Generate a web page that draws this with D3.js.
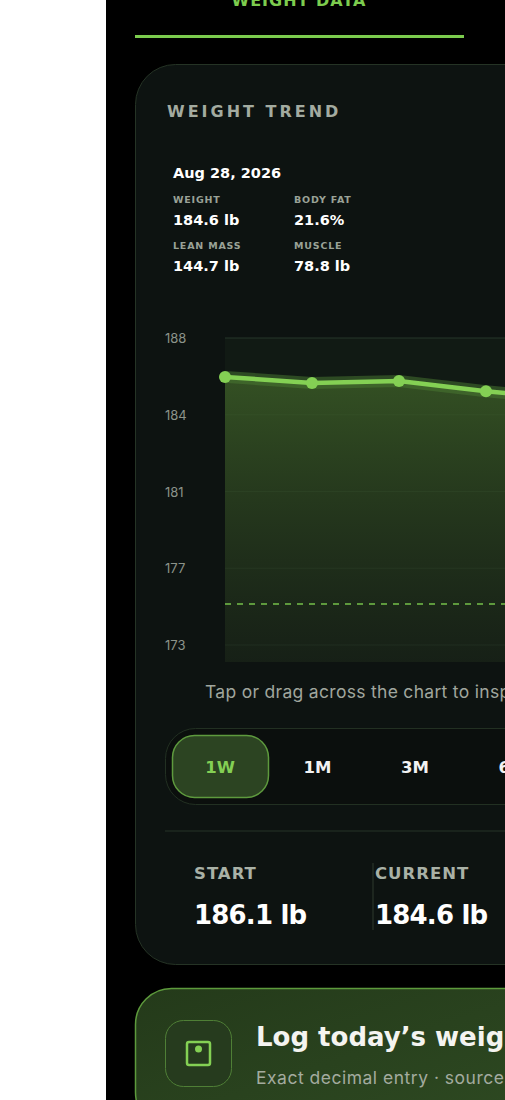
<!DOCTYPE html>
<html><head><meta charset="utf-8">
<script src="https://cdn.jsdelivr.net/npm/d3@7"></script>
<style>
body{margin:0;background:#fff;overflow:hidden}
text{font-family:Inter,"Noto Sans",sans-serif}
text.b{font-family:"DejaVu Sans",sans-serif;font-weight:700}
</style></head>
<body>
<div id="app"></div>
<script>
// data
const days = ["Aug 22","Aug 23","Aug 24","Aug 25","Aug 26","Aug 27","Aug 28"];
const weights = [186.1, 185.8, 185.9, 185.4, 185.0, 184.8, 184.6];
const goalWeight = 175;
const yTicks = [173, 176.75, 180.5, 184.25, 188];
const ranges = ["1W", "1M", "3M", "6M"];
const stats = [["WEIGHT","184.6 lb"],["BODY FAT","21.6%"],["LEAN MASS","144.7 lb"],["MUSCLE","78.8 lb"]];

const svg = d3.select("#app").append("svg")
    .attr("width", 505).attr("height", 1100);

const defs = svg.append("defs");
const grad = defs.append("linearGradient").attr("id","fill").attr("x1",0).attr("x2",0).attr("y1",0).attr("y2",1);
grad.append("stop").attr("offset","0%").attr("stop-color","#3a5a26").attr("stop-opacity",0.85);
grad.append("stop").attr("offset","100%").attr("stop-color","#1a2418").attr("stop-opacity",0.6);
const cg = defs.append("linearGradient").attr("id","cta").attr("x1",0).attr("x2",1).attr("y1",0).attr("y2",1);
cg.append("stop").attr("offset","0%").attr("stop-color","#243a1a");
cg.append("stop").attr("offset","100%").attr("stop-color","#2e4a22");

svg.append("rect").attr("x",106).attr("width",399).attr("height",1100).attr("fill","#000");

// tab header
svg.append("text").attr("class","b").attr("x",299).attr("y",6).attr("text-anchor","middle")
    .attr("fill","#7ccc4e").attr("font-size",16).attr("letter-spacing",1)
    .text("WEIGHT DATA");
svg.append("rect").attr("x",135).attr("y",35).attr("width",329).attr("height",3).attr("fill","#7ccc4e");

// card
svg.append("rect").attr("x",135.5).attr("y",64.5).attr("width",420).attr("height",900).attr("rx",40)
    .attr("fill","#0d1311").attr("stroke","#253325");
svg.append("text").attr("class","b").attr("x",167).attr("y",117).attr("fill","#a3aba0").attr("font-size",16)
    .attr("letter-spacing",3).text("WEIGHT TREND");

svg.append("text").attr("class","b").attr("x",173).attr("y",178).attr("fill","#fff").attr("font-size",14.5)
    .text("Aug 28, 2026");
stats.forEach((s,i) => {
  const x = 173 + (i%2)*121, y = 203 + Math.floor(i/2)*46;
  svg.append("text").attr("class","b").attr("x",x).attr("y",y).attr("fill","#9aa297").attr("font-size",9.5)
      .attr("letter-spacing",0.8).text(s[0]);
  svg.append("text").attr("class","b").attr("x",x).attr("y",y+22).attr("fill","#fff").attr("font-size",14.5)
      .text(s[1]);
});

// chart
const x = d3.scalePoint().domain(days).range([225, 747]);
const y = d3.scaleLinear().domain([173, 188]).range([645, 338]);
const bottom = 662;

svg.append("rect").attr("x",225).attr("y",338).attr("width",300).attr("height",bottom-338).attr("fill","#111a14");
svg.append("g").selectAll("line").data(yTicks).join("line")
    .attr("x1",225).attr("x2",505).attr("y1",d=>y(d)).attr("y2",d=>y(d))
    .attr("stroke","#26362a").attr("stroke-width",1.2);
svg.append("g").selectAll("text").data(yTicks).join("text")
    .attr("x",165).attr("y",d=>y(d)+5).attr("fill","#8c938a").attr("font-size",13)
    .text(d=>Math.round(d));

const area = d3.area().x((d,i)=>x(days[i])).y0(bottom).y1(d=>y(d));
const line = d3.line().x((d,i)=>x(days[i])).y(d=>y(d));
svg.append("path").datum(weights).attr("d",area).attr("fill","url(#fill)");
svg.append("line").attr("x1",225).attr("x2",505).attr("y1",y(goalWeight)).attr("y2",y(goalWeight))
    .attr("stroke","#76c04a").attr("stroke-width",1.5).attr("stroke-dasharray","6,6");
svg.append("path").datum(weights).attr("d",line).attr("fill","none")
    .attr("stroke","#4a7a32").attr("stroke-opacity",0.5).attr("stroke-width",12);
svg.append("path").datum(weights).attr("d",line).attr("fill","none")
    .attr("stroke","#84d054").attr("stroke-width",4.5);
svg.append("g").selectAll("circle").data(weights).join("circle")
    .attr("cx",(d,i)=>x(days[i])).attr("cy",d=>y(d)).attr("r",6).attr("fill","#84d054");

svg.append("text").attr("x",205).attr("y",698).attr("fill","#a0a69e").attr("font-size",17.5)
    .attr("letter-spacing",0.3).text("Tap or drag across the chart to inspect a day");

// range selector
svg.append("rect").attr("x",165.5).attr("y",728.5).attr("width",400).attr("height",76).attr("rx",30)
    .attr("fill","#0b0f0d").attr("stroke","#223022");
svg.append("rect").attr("x",172.5).attr("y",735.5).attr("width",96).attr("height",62).attr("rx",22)
    .attr("fill","#2c4422").attr("stroke","#5e9a3e").attr("stroke-width",1.5);
ranges.forEach((r,i)=>{
  svg.append("text").attr("class","b").attr("x",220+i*97.5).attr("y",773).attr("text-anchor","middle")
      .attr("fill", i===0 ? "#84d054" : "#f2f2f2").attr("font-size",16.5).text(r);
});

svg.append("line").attr("x1",165).attr("x2",505).attr("y1",831).attr("y2",831).attr("stroke","#273428");
svg.append("line").attr("x1",373).attr("x2",373).attr("y1",863).attr("y2",930).attr("stroke","#2e3a2e");
[["START","186.1 lb",194],["CURRENT","184.6 lb",375]].forEach(s=>{
  svg.append("text").attr("class","b").attr("x",s[2]).attr("y",879).attr("fill","#a9b1a6").attr("font-size",16.5)
      .attr("letter-spacing",1).text(s[0]);
  svg.append("text").attr("class","b").attr("x",s[2]).attr("y",924).attr("fill","#fff").attr("font-size",26)
      .attr("letter-spacing",-0.8).text(s[1]);
});

// log card
svg.append("rect").attr("x",135.5).attr("y",988.5).attr("width",420).attr("height",140).attr("rx",36)
    .attr("fill","url(#cta)").attr("stroke","#5d9a3c").attr("stroke-width",1.5);
svg.append("rect").attr("x",165.5).attr("y",1020.5).attr("width",66).attr("height",66).attr("rx",18)
    .attr("fill","#263b1e").attr("stroke","#4f7f36");
svg.append("rect").attr("x",187).attr("y",1042).attr("width",23).attr("height",23).attr("rx",2)
    .attr("fill","none").attr("stroke","#84d054").attr("stroke-width",2.5);
svg.append("circle").attr("cx",198.5).attr("cy",1049).attr("r",3.5).attr("fill","#84d054");
svg.append("text").attr("class","b").attr("x",256).attr("y",1046).attr("fill","#f4f4f0").attr("font-size",26)
    .text("Log today’s weight");
svg.append("text").attr("x",256).attr("y",1084).attr("fill","#a3ab9f").attr("font-size",17.5)
    .attr("letter-spacing",0.5).text("Exact decimal entry · source");
</script>
</body></html>
